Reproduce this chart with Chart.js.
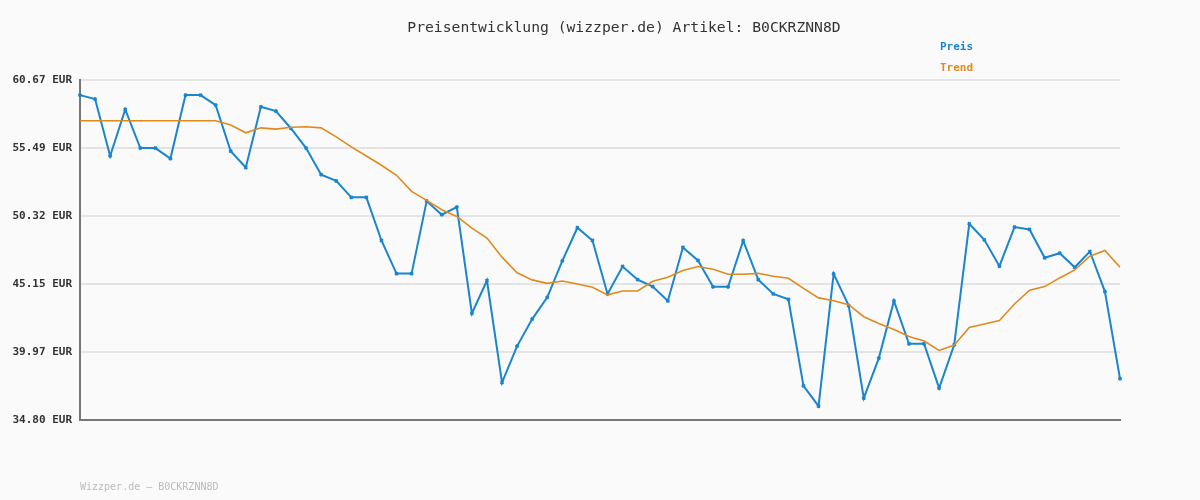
<!DOCTYPE html>
<html><head><meta charset="utf-8">
<script src="https://cdn.jsdelivr.net/npm/chart.js@4/dist/chart.umd.min.js"></script>
<style>
body{margin:0;background:#fafafa;}
#wrap{position:relative;width:1200px;height:500px;}
canvas{position:absolute;left:0;top:0;}
.t{position:absolute;font-family:"DejaVu Sans Mono",monospace;}
</style></head><body>
<div id="wrap">
<canvas id="c" width="1200" height="500"></canvas>
<div class="t" style="left:0;width:1248px;top:18px;text-align:center;font-size:14.7px;color:#333">Preisentwicklung (wizzper.de) Artikel: B0CKRZNN8D</div>
<div class="t" style="left:940px;top:40px;font-size:11px;font-weight:bold;color:#1a85cf">Preis</div>
<div class="t" style="left:940px;top:61px;font-size:11px;font-weight:bold;color:#e08a1e">Trend</div>
<div class="t" style="left:80px;top:481px;font-size:10px;color:#bbb">Wizzper.de – B0CKRZNN8D</div>
</div>
<script>
const labels = Array.from({length:70},(_, i)=>String(i+1));
const preis = [59.52,59.22,54.89,58.43,55.49,55.49,54.69,59.52,59.52,58.76,55.25,54.01,58.63,58.30,56.98,55.49,53.47,52.99,51.74,51.74,48.46,45.94,45.94,51.46,50.42,51.0,42.91,45.41,37.65,40.42,42.48,44.13,46.91,49.43,48.46,44.39,46.48,45.48,44.95,43.86,47.93,46.94,44.93,44.93,48.44,45.48,44.39,43.98,37.40,35.85,45.92,43.5,36.46,39.51,43.86,40.60,40.60,37.22,40.52,49.73,48.51,46.50,49.48,49.30,47.14,47.49,46.42,47.62,44.57,37.95];
const trend = [57.57,57.57,57.57,57.57,57.57,57.57,57.57,57.57,57.57,57.57,57.24,56.65,57.03,56.93,57.08,57.11,57.03,56.34,55.58,54.89,54.18,53.42,52.20,51.51,50.80,50.29,49.40,48.64,47.19,46.00,45.46,45.20,45.38,45.15,44.90,44.32,44.62,44.62,45.36,45.66,46.17,46.48,46.27,45.89,45.89,45.96,45.74,45.58,44.82,44.09,43.88,43.58,42.66,42.15,41.69,41.16,40.81,40.09,40.50,41.84,42.10,42.36,43.63,44.67,44.95,45.61,46.22,47.26,47.70,46.42];
const yTicks = [34.80,39.97,45.15,50.32,55.49,60.67];
new Chart(document.getElementById('c'),{
 type:'line',
 data:{labels,datasets:[
  {data:trend,borderColor:'#e08a1e',borderWidth:1.6,pointRadius:0,tension:0},
  {data:preis,borderColor:'#1a85cf',backgroundColor:'#1a85cf',borderWidth:2,pointRadius:2,pointStyle:'crossRot',pointBorderWidth:2,tension:0}
 ]},
 options:{responsive:false,animation:false,
  layout:{padding:{left:0,top:80,right:80,bottom:72}},
  plugins:{legend:{display:false},title:{display:false},tooltip:{enabled:false}},
  scales:{
   x:{offset:false,grid:{display:false},ticks:{display:false},border:{color:'#777',width:2}},
   y:{min:34.80,max:60.67,afterFit:s=>{s.width=80;},
      afterBuildTicks:s=>{s.ticks=yTicks.map(v=>({value:v}));},
      ticks:{font:{family:'DejaVu Sans Mono',size:11,weight:'bold'},color:'#333',padding:8,callback:v=>v.toFixed(2)+' EUR'},
      grid:{color:'#e4e4e4',lineWidth:2,drawTicks:false},border:{color:'#777',width:2}}
  }}
});
</script></body></html>
